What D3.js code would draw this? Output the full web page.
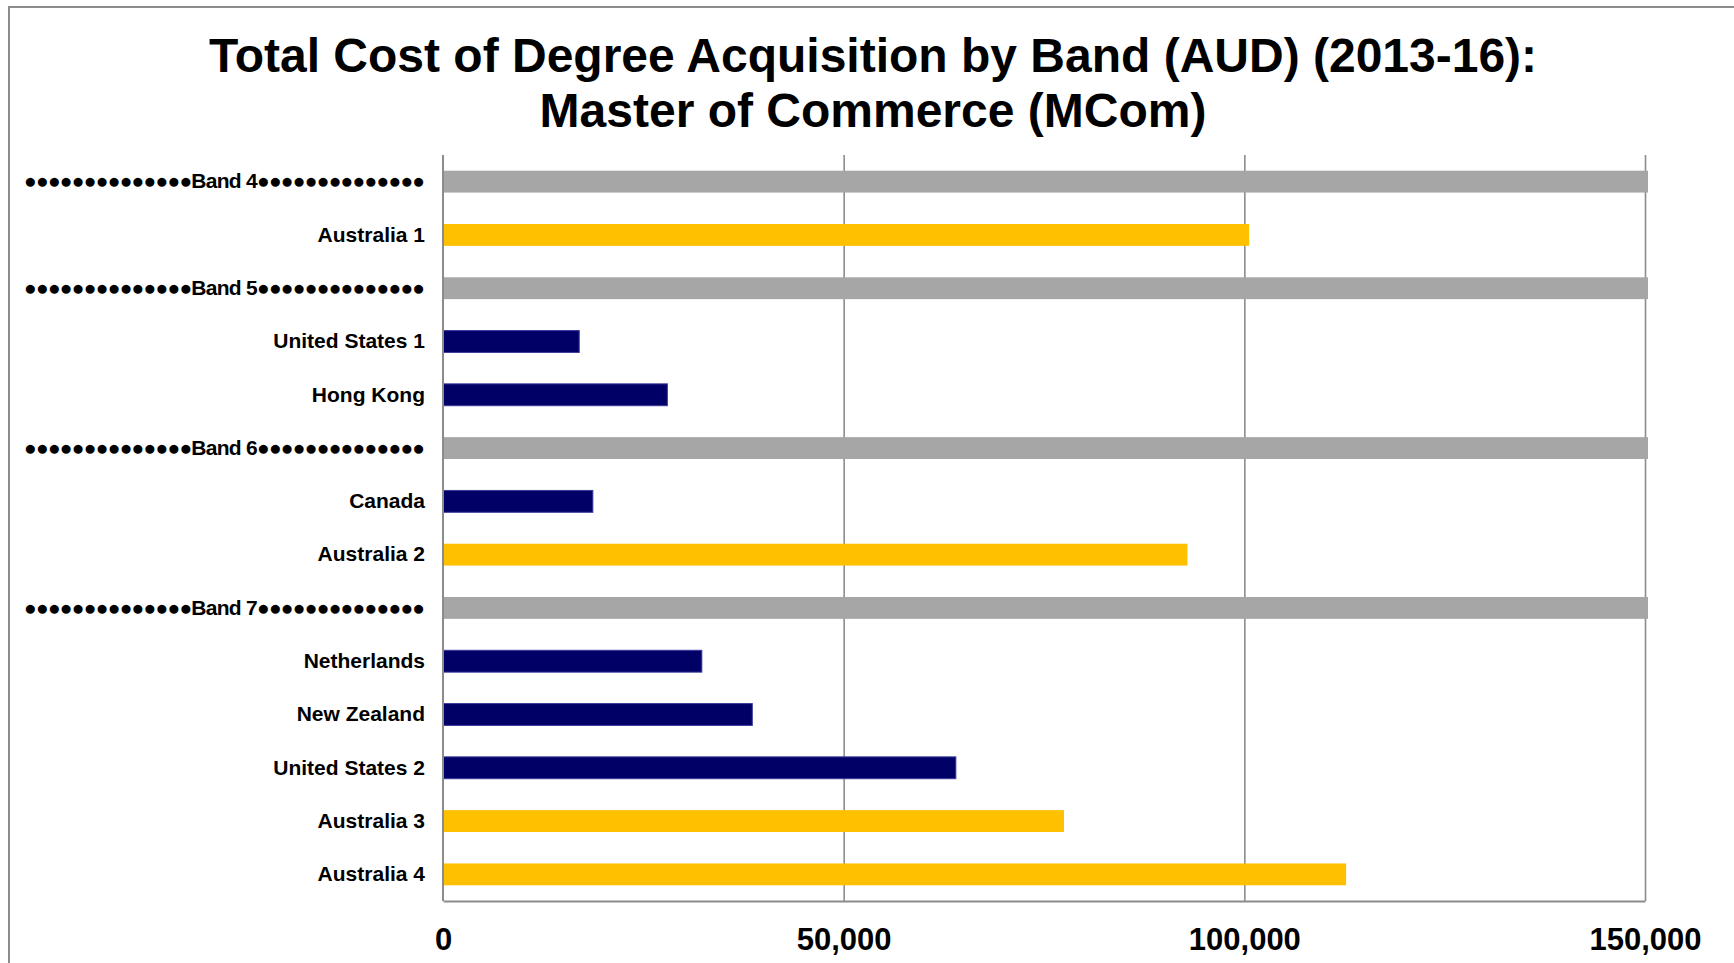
<!DOCTYPE html>
<html>
<head>
<meta charset="utf-8">
<script src="https://cdn.jsdelivr.net/npm/d3@7"></script>
<style>
  body { margin: 0; background: #fff; }
  svg text { font-family: "Liberation Sans", Arial, sans-serif; font-weight: bold; fill: #000; }
</style>
</head>
<body>
<script>
// chart data
var labels = ["Band 4", "Australia 1", "Band 5", "United States 1", "Hong Kong", "Band 6", "Canada",
              "Australia 2", "Band 7", "Netherlands", "New Zealand", "United States 2", "Australia 3", "Australia 4"];
var kinds = ["band", "aus", "band", "intl", "intl", "band", "intl",
             "aus", "band", "intl", "intl", "intl", "aus", "aus"];
var values = [150000, 100600, 150000, 17000, 28000, 150000, 18700,
              92900, 150000, 32300, 38600, 64000, 77500, 112700];
var tickValues = [0, 50000, 100000, 150000];
var titleLines = ["Total Cost of Degree Acquisition by Band (AUD) (2013-16):", "Master of Commerce (MCom)"];

var width = 1734, height = 963;
// note: "top" is a read-only window global, so use plot* names
var plotLeft = 443, plotRight = 1645, plotTop = 155, plotBottom = 901;
var colors = { band: "#a6a6a6", aus: "#ffc000", intl: "#000066" };

var svg = d3.select("body").append("svg")
    .attr("width", width)
    .attr("height", height);

// outer frame (only top/left edges visible)
svg.append("rect")
    .attr("x", 9).attr("y", 7)
    .attr("width", width + 20).attr("height", height + 20)
    .attr("fill", "none")
    .attr("stroke", "#8c8c8c")
    .attr("stroke-width", 2);

svg.selectAll(".title")
    .data(titleLines)
    .enter()
    .append("text")
    .attr("class", "title")
    .attr("x", 873)
    .attr("y", function(d, i) { return 72 + i * 55; })
    .attr("text-anchor", "middle")
    .attr("font-size", 48)
    .text(function(d) { return d; });

var x = d3.scaleLinear().domain([0, 150000]).range([plotLeft, plotRight]);
var y = d3.scaleBand().domain(d3.range(labels.length)).range([plotTop, plotBottom])
    .paddingInner(0.59).paddingOuter(0.295);

// x axis with gridlines
var xAxis = d3.axisBottom(x)
    .tickValues(tickValues)
    .tickSizeInner(-(plotBottom - plotTop))
    .tickSizeOuter(0)
    .tickFormat(d3.format(","));

var gx = svg.append("g")
    .attr("transform", "translate(0," + plotBottom + ")")
    .call(xAxis);
gx.select(".domain").attr("stroke", "#8c8c8c").attr("stroke-width", 2);
gx.selectAll(".tick line").attr("stroke", "#8c8c8c").attr("stroke-width", 1.6)
    .filter(function(d) { return d === 0; }).remove();
gx.selectAll(".tick text")
    .attr("y", 49)
    .attr("dy", null)
    .attr("font-size", 31)
    .attr("font-family", null)
    .attr("fill", "#000");

// bars (band rows run a hair past the last gridline, as in the original)
svg.selectAll(".bar")
    .data(values)
    .enter()
    .append("rect")
    .attr("class", "bar")
    .attr("x", x(0))
    .attr("y", function(d, i) { return y(i); })
    .attr("width", function(d, i) { return x(d) - x(0) + (kinds[i] === "band" ? 3 : 0); })
    .attr("height", y.bandwidth())
    .attr("fill", function(d, i) { return colors[kinds[i]]; })
    .attr("stroke", function(d, i) { return kinds[i] === "intl" ? "#3a3a9a" : "none"; })
    .attr("stroke-width", 1);

// y axis
var yAxis = d3.axisLeft(y)
    .tickSize(0)
    .tickPadding(18)
    .tickFormat(function(i) {
      if (kinds[i] === "band") {
        var dots = "\u25CF".repeat(14);
        return dots + labels[i] + dots;
      }
      return labels[i];
    });

var gy = svg.append("g")
    .attr("transform", "translate(" + plotLeft + ",0)")
    .call(yAxis);
gy.select(".domain").attr("stroke", "#8c8c8c").attr("stroke-width", 2)
    .attr("d", "M0," + plotTop + "V" + plotBottom);
gy.selectAll(".tick text")
    .attr("font-size", 21)
    .attr("font-family", null)
    .attr("fill", "#000")
    .each(function(i) {
      if (kinds[i] === "band") {
        d3.select(this).attr("textLength", 401).attr("lengthAdjust", "spacing");
      }
    });
</script>
</body>
</html>
